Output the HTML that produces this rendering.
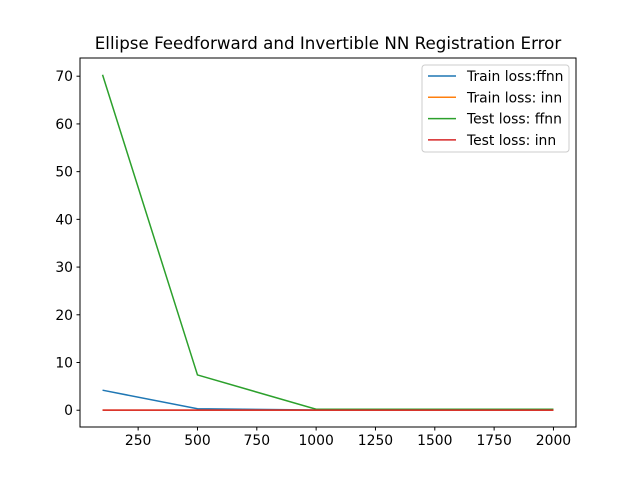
<!DOCTYPE html>
<html><head><meta charset="utf-8"><style>
body{margin:0;background:#fff}
svg{display:block;font-family:"DejaVu Sans","Liberation Sans",sans-serif}
</style></head><body>
<svg id="chart" width="640" height="480">
<rect width="640" height="480" fill="#fff"/>
<text x="328" y="49" font-size="16.7" text-anchor="middle">Ellipse Feedforward and Invertible NN Registration Error</text>
<g id="marks"></g>
<rect x="80" y="58" width="496" height="369" fill="none" stroke="#000" stroke-width="1"/>
<g id="ticks" font-size="13.9"></g>
<g>
<rect x="422" y="65" width="147" height="87" rx="3" fill="#fff" fill-opacity="0.8" stroke="#ccc"/>
<g id="legend-items" font-size="13.9"></g>
</g>
</svg>
<script>
const xValues=[100,500,1000,2000];
const trainFfnn=[4.2,0.3,0.05,0.05];
const trainInn=[0.02,0.02,0.02,0.02];
const testFfnn=[70.3,7.4,0.2,0.2];
const testInn=[0.01,0.01,0.01,0.01];
const xTicks=[250,500,750,1000,1250,1500,1750,2000];
const yTicks=[0,10,20,30,40,50,60,70];
const seriesNames=["Train loss:ffnn","Train loss: inn","Test loss: ffnn","Test loss: inn"];
const seriesColors=["#1f77b4","#ff7f0e","#2ca02c","#d62728"];
const NS="http://www.w3.org/2000/svg";
const X0=80,X1=576,Y0=58,Y1=427;
const xmin=5,xmax=2095,ymin=-3.515,ymax=73.815;
function sx(v){return X0+(v-xmin)/(xmax-xmin)*(X1-X0);}
function sy(v){return Y1-(v-ymin)/(ymax-ymin)*(Y1-Y0);}
function mk(t,a,p){const e=document.createElementNS(NS,t);for(const k in a)e.setAttribute(k,a[k]);p.appendChild(e);return e;}
const marks=document.getElementById('marks');
const all=[trainFfnn,trainInn,testFfnn,testInn];
all.forEach((s,i)=>{
 const pl=mk('polyline',{points:s.map((v,j)=>sx(xValues[j])+','+sy(v)).join(' '),fill:'none',stroke:seriesColors[i],'stroke-width':1.5},marks);
 
 
});
const tk=document.getElementById('ticks');
xTicks.forEach(v=>{
 const x=sx(v);
 const l=mk('line',{x1:x,x2:x,y1:Y1,y2:Y1+3.5,stroke:'#000'},tk);
 
 
 const t=mk('text',{x:x,y:Y1+18,'text-anchor':'middle'},tk);t.textContent=v;
 
 
});
yTicks.forEach(v=>{
 const y=sy(v);
 const l=mk('line',{x1:X0-3.5,x2:X0,y1:y,y2:y,stroke:'#000'},tk);
 
 
 const t=mk('text',{x:X0-7,y:y+5,'text-anchor':'end'},tk);t.textContent=v;
 
 
});
const lg=document.getElementById('legend-items');
seriesNames.forEach((n,i)=>{
 const y=76+i*21.3;
 const l=mk('line',{x1:428,x2:456,y1:y,y2:y,stroke:seriesColors[i],'stroke-width':1.5},lg);
 
 
 const t=mk('text',{x:467,y:y+5},lg);t.textContent=n;
 
 
});
</script>
</body></html>
